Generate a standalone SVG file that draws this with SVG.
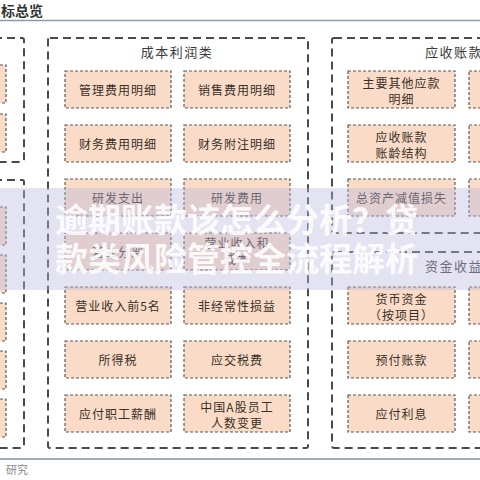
<svg xmlns="http://www.w3.org/2000/svg" width="480" height="480" viewBox="0 0 480 480">
<style>
.cont{fill:none;stroke:#4a4a4a;stroke-width:2;stroke-dasharray:8 5}
.box{fill:#f9dbc7;stroke:#5a5a5a;stroke-width:1.2;stroke-dasharray:3 2}
.t{font-family:"Noto Sans CJK SC","Noto Sans",sans-serif;font-size:12px;fill:#3a3028;text-anchor:middle;letter-spacing:1px}
.ttl{font-family:"Noto Sans CJK SC","Noto Sans",sans-serif;font-size:13px;fill:#3a3a3a;letter-spacing:1.5px}
.wm{font-family:"Noto Sans CJK SC","Noto Sans",sans-serif;font-size:33px;font-weight:700;fill:#ffffff;fill-opacity:0.9}
</style>
<rect x="0" y="0" width="480" height="480" fill="#ffffff"/>
<g id="header">
<text x="1" y="16" font-family="'Noto Sans CJK SC',sans-serif" font-size="14" font-weight="700" fill="#333">标总览</text>
<line x1="0" y1="20.5" x2="480" y2="20.5" stroke="#8d9bab" stroke-width="1.5"/>
<line x1="0" y1="459" x2="480" y2="459" stroke="#a3aab6" stroke-width="2"/>
<text x="6" y="474" font-family="'Noto Sans CJK SC',sans-serif" font-size="11" fill="#888">研究</text>
</g>
<g id="connectors"></g>
<g id="left-group-1">
<rect class="cont" x="-60" y="38" width="84" height="124" rx="2"/>
<rect class="box" x="-60" y="65" width="66" height="38"/>
<rect class="box" x="-60" y="114" width="66" height="38"/>
</g>
<g id="left-group-2">
<rect class="cont" x="-60" y="180" width="84" height="268" rx="2"/>
<rect class="box" x="-60" y="207" width="66" height="38"/>
<rect class="box" x="-60" y="255" width="66" height="38"/>
<rect class="box" x="-60" y="303" width="66" height="38"/>
<rect class="box" x="-60" y="351" width="66" height="38"/>
<rect class="box" x="-60" y="399" width="66" height="38"/>
</g>
<g id="cost-profit">
<rect class="cont" x="48" y="38" width="260" height="410" rx="2"/>
<text class="ttl" x="177" y="57" text-anchor="middle">成本利润类</text>
</g>
<g id="n-glfy"><rect class="box" x="65" y="71" width="106" height="37"/><text class="t" x="118" y="95">管理费用明细</text></g>
<g id="n-xsfy"><rect class="box" x="184" y="71" width="106" height="37"/><text class="t" x="237" y="95">销售费用明细</text></g>
<g id="n-cwfy"><rect class="box" x="65" y="125" width="106" height="37"/><text class="t" x="118" y="149">财务费用明细</text></g>
<g id="n-cwfz"><rect class="box" x="184" y="125" width="106" height="37"/><text class="t" x="237" y="149">财务附注明细</text></g>
<g id="n-yfzc"><rect class="box" x="65" y="179" width="106" height="37"/><text class="t" x="118" y="203">研发支出</text></g>
<g id="n-yffy"><rect class="box" x="184" y="179" width="106" height="37"/><text class="t" x="237" y="203">研发费用</text></g>
<g id="n-fb"><rect class="box" x="65" y="233" width="106" height="37"/><text class="t" x="118" y="257">营业分部</text></g>
<g id="n-yysr"><rect class="box" x="184" y="233" width="106" height="37"/><text class="t" x="237" y="248">营业收入和</text><text class="t" x="237" y="264">成本</text></g>
<g id="n-top5"><rect class="box" x="65" y="287" width="106" height="37"/><text class="t" x="118" y="311">营业收入前5名</text></g>
<g id="n-fjc"><rect class="box" x="184" y="287" width="106" height="37"/><text class="t" x="237" y="311">非经常性损益</text></g>
<g id="n-sds"><rect class="box" x="65" y="341" width="106" height="37"/><text class="t" x="118" y="365">所得税</text></g>
<g id="n-yjsf"><rect class="box" x="184" y="341" width="106" height="37"/><text class="t" x="237" y="365">应交税费</text></g>
<g id="n-xc"><rect class="box" x="65" y="395" width="106" height="37"/><text class="t" x="118" y="419">应付职工薪酬</text></g>
<g id="n-yg"><rect class="box" x="184" y="395" width="106" height="37"/><text class="t" x="237" y="412">中国A股员工</text><text class="t" x="237" y="428">人数变更</text></g>
<g id="receivables">
<rect class="cont" x="332" y="38" width="220" height="195" rx="2"/>
<text class="ttl" x="425" y="57">应收账款类</text>
</g>
<g id="n-qtys"><rect class="box" x="348" y="71" width="107" height="37"/><text class="t" x="401.5" y="88">主要其他应款</text><text class="t" x="401.5" y="104">明细</text></g>
<g id="n-zl"><rect class="box" x="348" y="125" width="107" height="37"/><text class="t" x="401.5" y="142">应收账款</text><text class="t" x="401.5" y="158">账龄结构</text></g>
<g id="n-jz"><rect class="box" x="348" y="179" width="107" height="37"/><text class="t" x="401.5" y="203">总资产减值损失</text></g>
<g id="n-r1"><rect class="box" x="469" y="71" width="90" height="37"/></g>
<g id="n-r2"><rect class="box" x="469" y="125" width="90" height="37"/></g>
<g id="n-r3"><rect class="box" x="469" y="179" width="90" height="37"/></g>
<g id="funds">
<rect class="cont" x="332" y="252" width="220" height="196" rx="2"/>
<text class="ttl" x="425" y="271">资金收益类</text>
</g>
<g id="n-hbzj"><rect class="box" x="348" y="287" width="107" height="37"/><text class="t" x="401.5" y="304">货币资金</text><text class="t" x="401.5" y="320">（按项目）</text></g>
<g id="n-yfzk"><rect class="box" x="348" y="341" width="107" height="37"/><text class="t" x="401.5" y="365">预付账款</text></g>
<g id="n-yflx"><rect class="box" x="348" y="395" width="107" height="37"/><text class="t" x="401.5" y="419">应付利息</text></g>
<g id="n-r4"><rect class="box" x="469" y="287" width="90" height="37"/></g>
<g id="n-r5"><rect class="box" x="469" y="341" width="90" height="37"/></g>
<g id="n-r6"><rect class="box" x="469" y="395" width="90" height="37"/></g>
<g id="watermark">
<rect x="0" y="188" width="480" height="102" fill="rgb(185,185,220)" fill-opacity="0.4"/>
<text class="wm" x="55" y="232">逾期账款该怎么分析？贷</text>
<text class="wm" x="55" y="271">款类风险管控全流程解析</text>
</g>
</svg>
